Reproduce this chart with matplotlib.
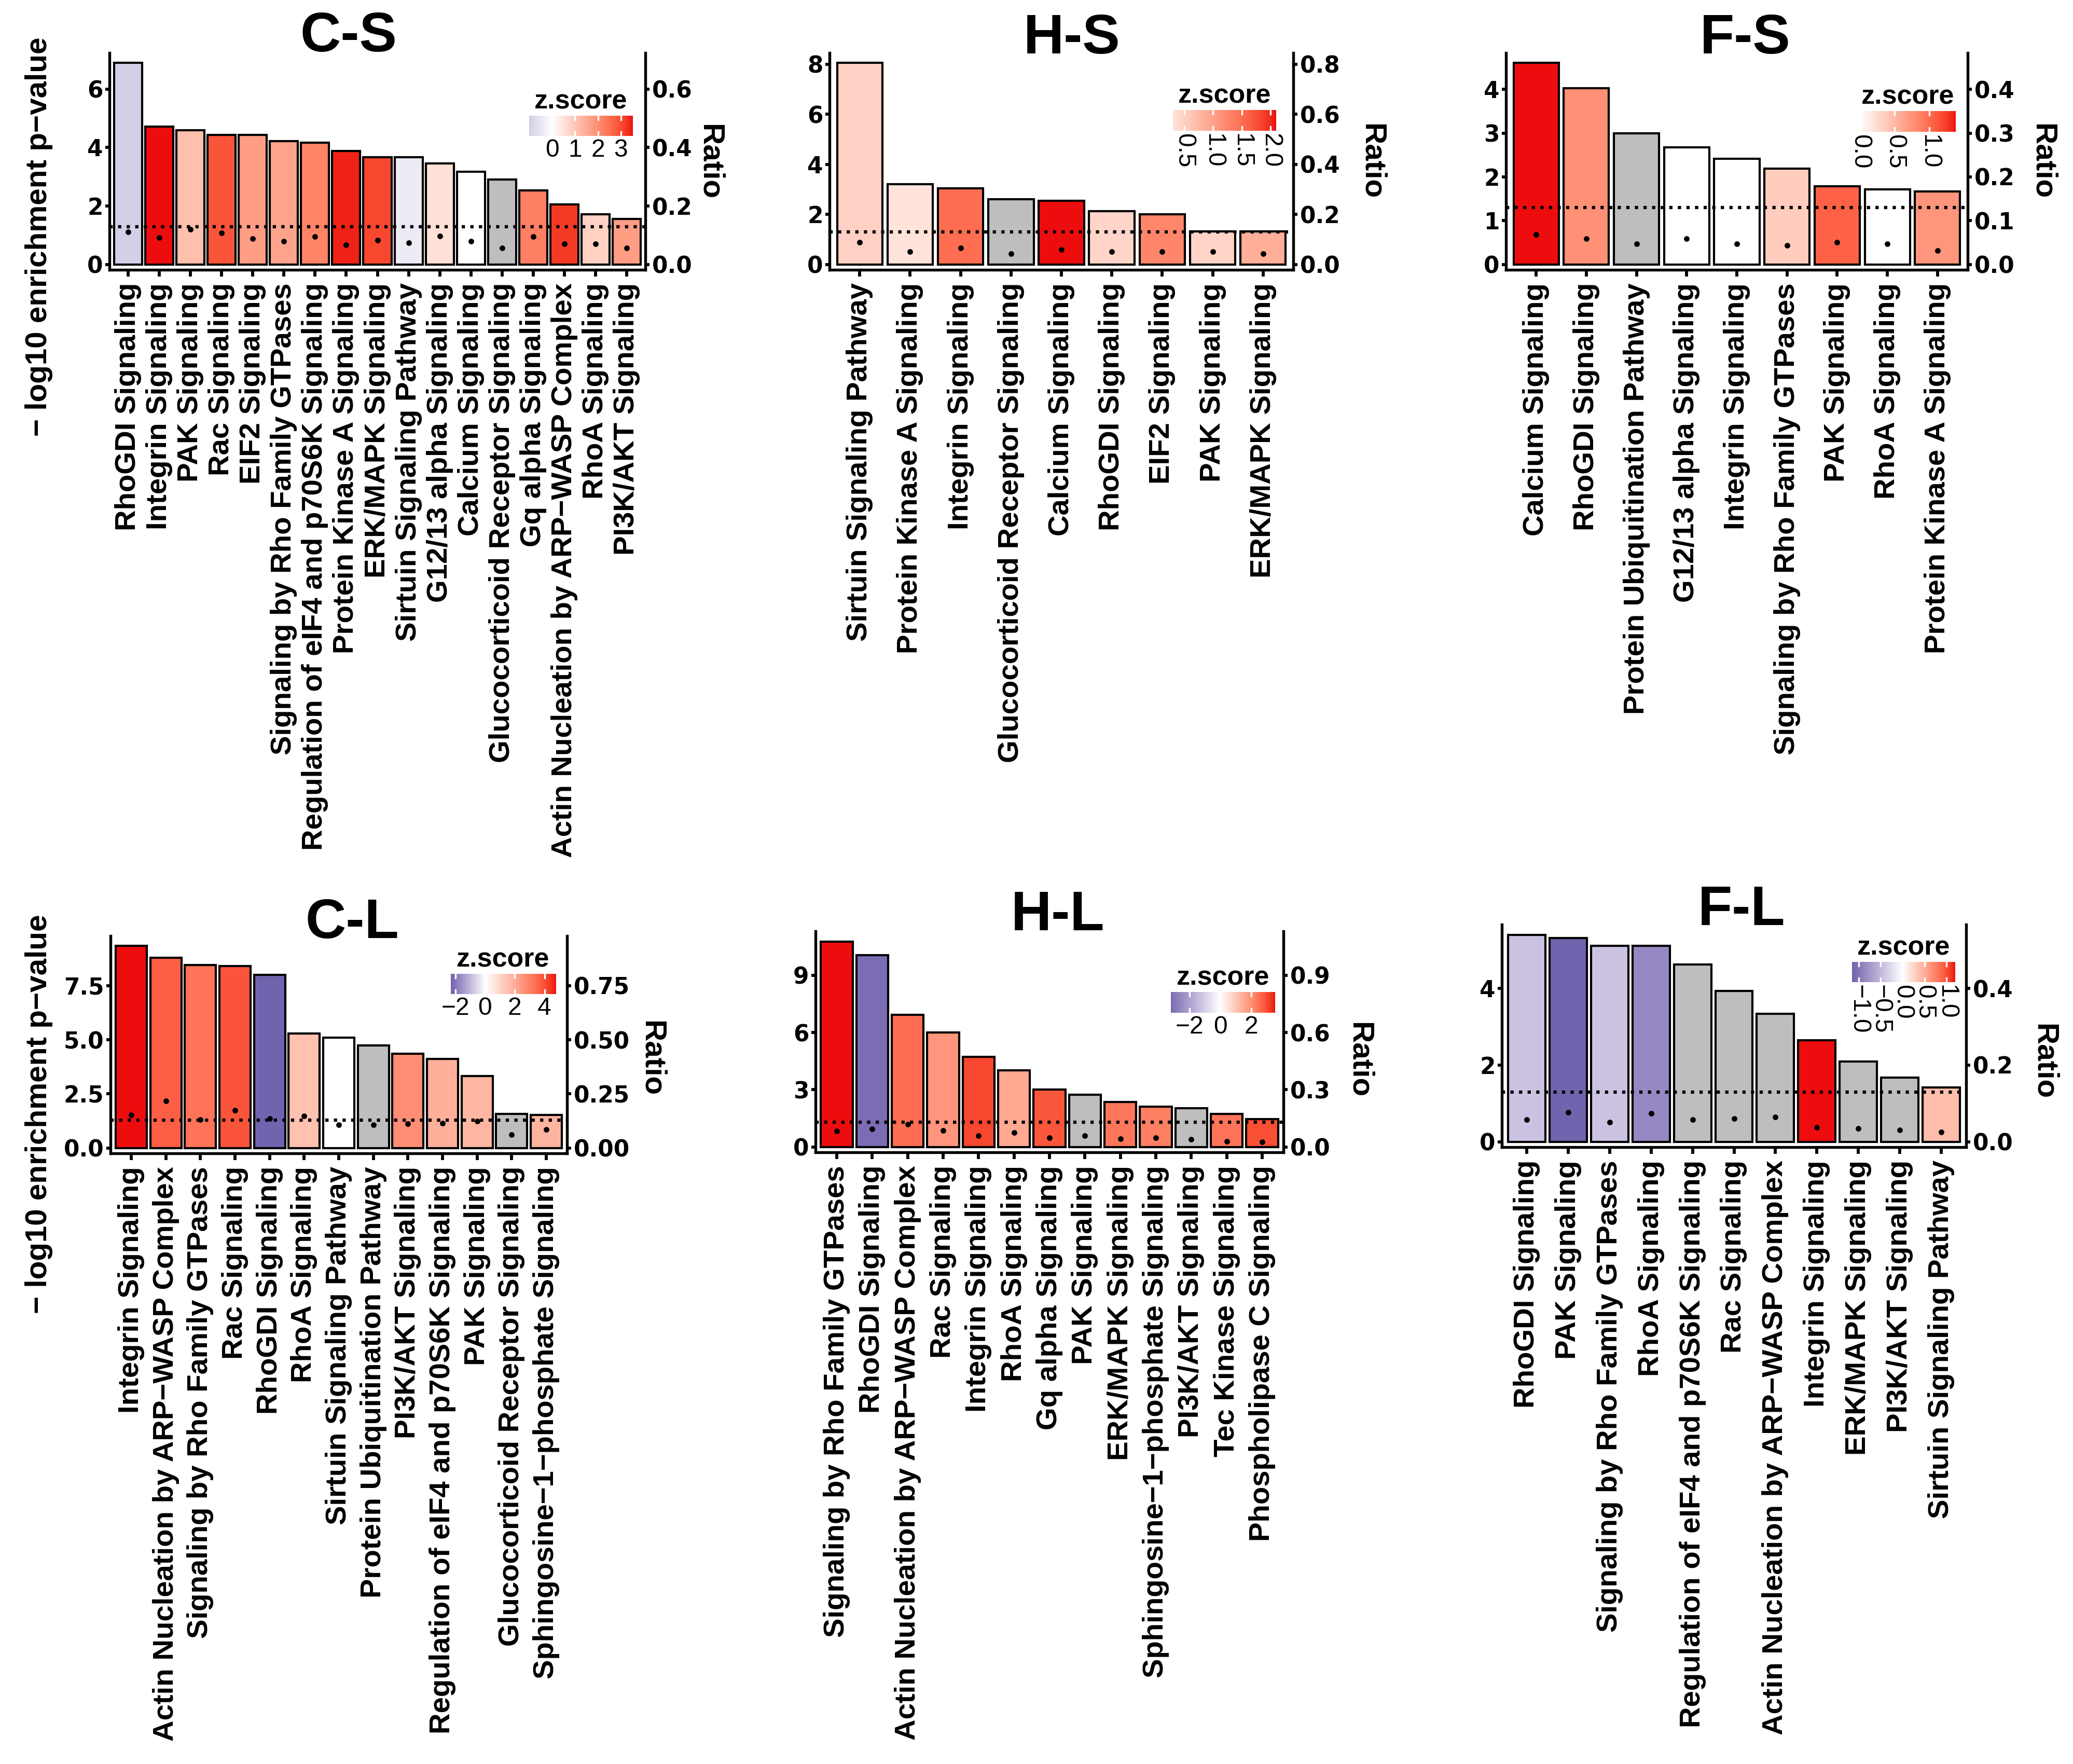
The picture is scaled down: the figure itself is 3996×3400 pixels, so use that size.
import numpy as np
import matplotlib
matplotlib.use("Agg")
import matplotlib.pyplot as plt
from matplotlib.colors import to_rgb
from matplotlib.transforms import blended_transform_factory

W, H, DPI = 3996, 3400, 300
LOW, NA_COL = "#6c5daa", "#bebebe"
HIGH_LAB = np.array([50.0, 75.0, 60.0])   # printed red, as Lab
SANS = ["Liberation Sans", "DejaVu Sans"]
NARROW = ["Liberation Sans Narrow", "Liberation Sans", "DejaVu Sans"]
NUM = ["DejaVu Sans"]
nan = np.nan

# ---------------- data ----------------
cs_terms = ["RhoGDI Signaling", "Integrin Signaling", "PAK Signaling", "Rac Signaling",
            "EIF2 Signaling", "Signaling by Rho Family GTPases",
            "Regulation of eIF4 and p70S6K Signaling", "Protein Kinase A Signaling",
            "ERK/MAPK Signaling", "Sirtuin Signaling Pathway", "G12/13 alpha Signaling",
            "Calcium Signaling", "Glucocorticoid Receptor Signaling", "Gq alpha Signaling",
            "Actin Nucleation by ARP\u2212WASP Complex", "RhoA Signaling", "PI3K/AKT Signaling"]
cs_logp = [6.89, 4.71, 4.60, 4.43, 4.43, 4.21, 4.17, 3.89, 3.66, 3.66, 3.45, 3.17, 2.90, 2.54, 2.06, 1.71, 1.56]
cs_ratio = [0.111, 0.092, 0.121, 0.108, 0.089, 0.079, 0.095, 0.067, 0.083, 0.074, 0.097, 0.079,
            0.057, 0.095, 0.070, 0.070, 0.057]
cs_z = [-1.0, 3.5, 1.14, 2.86, 1.73, 1.62, 2.16, 3.4, 3.04, -0.4, 0.54, 0.0, nan, 2.23, 3.2, 0.81, 1.73]

hs_terms = ["Sirtuin Signaling Pathway", "Protein Kinase A Signaling", "Integrin Signaling",
            "Glucocorticoid Receptor Signaling", "Calcium Signaling", "RhoGDI Signaling",
            "EIF2 Signaling", "PAK Signaling", "ERK/MAPK Signaling"]
hs_logp = [8.05, 3.20, 3.05, 2.60, 2.54, 2.14, 2.01, 1.33, 1.33]
hs_ratio = [0.088, 0.052, 0.065, 0.044, 0.059, 0.052, 0.052, 0.052, 0.044]
hs_z = [0.50, 0.30, 1.50, nan, 2.1, 0.45, 1.27, 0.46, 0.86]

fs_terms = ["Calcium Signaling", "RhoGDI Signaling", "Protein Ubiquitination Pathway",
            "G12/13 alpha Signaling", "Integrin Signaling", "Signaling by Rho Family GTPases",
            "PAK Signaling", "RhoA Signaling", "Protein Kinase A Signaling"]
fs_logp = [4.60, 4.02, 3.00, 2.68, 2.41, 2.19, 1.79, 1.71, 1.67]
fs_ratio = [0.068, 0.059, 0.047, 0.059, 0.047, 0.043, 0.051, 0.047, 0.032]
fs_z = [1.38, 0.77, nan, 0.0, 0.0, 0.36, 1.06, 0.0, 0.74]

cl_terms = ["Integrin Signaling", "Actin Nucleation by ARP\u2212WASP Complex",
            "Signaling by Rho Family GTPases", "Rac Signaling", "RhoGDI Signaling",
            "RhoA Signaling", "Sirtuin Signaling Pathway", "Protein Ubiquitination Pathway",
            "PI3K/AKT Signaling", "Regulation of eIF4 and p70S6K Signaling", "PAK Signaling",
            "Glucocorticoid Receptor Signaling", "Sphingosine\u22121\u2212phosphate Signaling"]
cl_logp = [9.33, 8.79, 8.46, 8.40, 8.00, 5.29, 5.09, 4.74, 4.35, 4.11, 3.33, 1.58, 1.54]
cl_ratio = [0.154, 0.218, 0.132, 0.175, 0.137, 0.148, 0.107, 0.107, 0.111, 0.115, 0.124, 0.062, 0.085]
cl_z = [4.75, 3.7, 3.27, 3.9, -2.3, 1.49, 0.0, nan, 2.7, 1.9, 1.74, nan, 1.8]

hl_terms = ["Signaling by Rho Family GTPases", "RhoGDI Signaling",
            "Actin Nucleation by ARP\u2212WASP Complex", "Rac Signaling", "Integrin Signaling",
            "RhoA Signaling", "Gq alpha Signaling", "PAK Signaling", "ERK/MAPK Signaling",
            "Sphingosine\u22121\u2212phosphate Signaling", "PI3K/AKT Signaling",
            "Tec Kinase Signaling", "Phospholipase C Signaling"]
hl_logp = [10.77, 10.07, 6.93, 6.01, 4.73, 4.01, 3.00, 2.73, 2.36, 2.10, 2.02, 1.72, 1.45]
hl_ratio = [0.084, 0.094, 0.118, 0.086, 0.059, 0.076, 0.049, 0.059, 0.042, 0.049, 0.039, 0.030, 0.027]
hl_z = [3.56, -3.2, 2.55, 1.9, 3.1, 1.55, 2.9, nan, 2.4, 2.28, nan, 2.45, 3.0]

fl_terms = ["RhoGDI Signaling", "PAK Signaling", "Signaling by Rho Family GTPases",
            "RhoA Signaling", "Regulation of eIF4 and p70S6K Signaling", "Rac Signaling",
            "Actin Nucleation by ARP\u2212WASP Complex", "Integrin Signaling",
            "ERK/MAPK Signaling", "PI3K/AKT Signaling", "Sirtuin Signaling Pathway"]
fl_logp = [5.40, 5.32, 5.12, 5.12, 4.63, 3.94, 3.34, 2.65, 2.09, 1.68, 1.41]
fl_ratio = [0.058, 0.077, 0.051, 0.074, 0.058, 0.061, 0.064, 0.037, 0.035, 0.031, 0.025]
fl_z = [-0.43, -1.15, -0.42, -0.86, nan, nan, nan, 1.2, nan, nan, 0.40]

THRESH = 1.3

# ---------------- layout (pixels) ----------------
panels = [
    dict(title="C-S", terms=cs_terms, logp=cs_logp, ratio=cs_ratio, z=cs_z,
         box=(211, 102, 1244, 520), tpos=(672, 71), rpos=(1368, 312), ylab=(75, 456),
         yt=[0, 2, 4, 6], yfmt="{:.0f}", rfmt="{:.1f}",
         cb=(1020, 223, 1219, 262), cbt=[0, 1, 2, 3], cbfmt="{:.0f}", cbrot=0),
    dict(title="H-S", terms=hs_terms, logp=hs_logp, ratio=hs_ratio, z=hs_z,
         box=(1599, 102, 2493, 520), tpos=(2066, 75), rpos=(2644, 311), ylab=None,
         yt=[0, 2, 4, 6, 8], yfmt="{:.0f}", rfmt="{:.1f}",
         cb=(2261, 212, 2460, 252), cbt=[0.5, 1.0, 1.5, 2.0], cbfmt="{:.1f}", cbrot=-90),
    dict(title="F-S", terms=fs_terms, logp=fs_logp, ratio=fs_ratio, z=fs_z,
         box=(2903, 102, 3793, 520), tpos=(3364, 75), rpos=(3937, 311), ylab=None,
         yt=[0, 1, 2, 3, 4], yfmt="{:.0f}", rfmt="{:.1f}",
         cb=(3586, 214, 3769, 254), cbt=[0.0, 0.5, 1.0], cbfmt="{:.1f}", cbrot=-90),
    dict(title="C-L", terms=cl_terms, logp=cl_logp, ratio=cl_ratio, z=cl_z,
         box=(213, 1804, 1093, 2223), tpos=(679, 1780), rpos=(1256, 2040), ylab=(75, 2147),
         yt=[0, 2.5, 5, 7.5], yfmt="{:.1f}", rfmt="{:.2f}", negspan=2.4,
         cb=(869, 1877, 1071, 1916), cbt=[-2, 0, 2, 4], cbfmt="{:.0f}", cbrot=0),
    dict(title="H-L", terms=hl_terms, logp=hl_logp, ratio=hl_ratio, z=hl_z,
         box=(1572, 1795, 2474, 2221), tpos=(2039, 1765), rpos=(2620, 2043), ylab=None,
         yt=[0, 3, 6, 9], yfmt="{:.0f}", rfmt="{:.1f}",
         cb=(2257, 1912, 2458, 1952), cbt=[-2, 0, 2], cbfmt="{:.0f}", cbrot=0),
    dict(title="F-L", terms=fl_terms, logp=fl_logp, ratio=fl_ratio, z=fl_z,
         box=(2895, 1782, 3790, 2211), tpos=(3357, 1755), rpos=(3940, 2046), ylab=None,
         yt=[0, 2, 4], yfmt="{:.0f}", rfmt="{:.1f}",
         cb=(3570, 1854, 3769, 1893), cbt=[-1.0, -0.5, 0.0, 0.5, 1.0], cbfmt="{:.1f}", cbrot=-90),
]

# colour interpolation in CIE Lab, like ggplot's gradient2
M_RGB2XYZ = np.array([[0.4124, 0.3576, 0.1805],
                      [0.2126, 0.7152, 0.0722],
                      [0.0193, 0.1192, 0.9505]])
WHITE_PT = np.array([0.95047, 1.0, 1.08883])


def to_lab(rgb):
    c = np.asarray(rgb, dtype=float)
    lin = np.where(c <= 0.04045, c / 12.92, ((c + 0.055) / 1.055) ** 2.4)
    xyz = M_RGB2XYZ @ lin / WHITE_PT
    f = np.where(xyz > 0.008856, np.cbrt(xyz), 7.787 * xyz + 16 / 116)
    return np.array([116 * f[1] - 16, 500 * (f[0] - f[1]), 200 * (f[1] - f[2])])


def from_lab(lab):
    L, a, b = lab
    fy = (L + 16) / 116
    f = np.array([fy + a / 500, fy, fy - b / 200])
    xyz = np.where(f ** 3 > 0.008856, f ** 3, (f - 16 / 116) / 7.787) * WHITE_PT
    lin = np.linalg.solve(M_RGB2XYZ, xyz)
    lin = np.clip(lin, 0, 1)
    c = np.where(lin <= 0.0031308, 12.92 * lin, 1.055 * lin ** (1 / 2.4) - 0.055)
    return tuple(np.clip(c, 0, 1))


LAB_W = to_lab((1, 1, 1))
LAB_LO = to_lab(to_rgb(LOW))


def zcolor(z, negspan, posspan):
    if np.isnan(z):
        return to_rgb(NA_COL)
    if z >= 0:
        f = min(z / posspan, 1.0)
        return from_lab(LAB_W + f * (HIGH_LAB - LAB_W))
    f = min(-z / negspan, 1.0)
    return from_lab(LAB_W + f * (LAB_LO - LAB_W))


def fig_rect(x0, y0, x1, y1):
    return [x0 / W, 1 - y1 / H, (x1 - x0) / W, (y1 - y0) / H]


def minus(s):
    return s.replace("-", "\u2212")


fig = plt.figure(figsize=(W / DPI, H / DPI), dpi=DPI)

for p in panels:
    n = len(p["terms"])
    x = np.arange(1, n + 1)
    logp = np.array(p["logp"])
    z = np.array(p["z"], dtype=float)
    zlo, zhi = np.nanmin(z), np.nanmax(z)
    span = max(abs(zlo), abs(zhi))
    negspan = p.get("negspan", span)
    posspan = p.get("posspan", span)
    cols = [zcolor(v, negspan, posspan) for v in z]

    ax = fig.add_axes(fig_rect(*p["box"]))
    ytop = 1.05 * logp.max()
    ylo = -0.025 * ytop
    ax.bar(x, logp, width=0.9, color=cols, edgecolor="black", linewidth=1.0, zorder=2)
    ax.axhline(THRESH, color="black", linestyle=":", linewidth=1.5, zorder=3)
    ax.set_xlim(0.4, n + 0.6)
    ax.set_ylim(ylo, ytop)
    ax.set_xticks(x)
    ax.set_xticklabels(p["terms"], rotation=90, ha="center", va="top",
                       fontsize=13.5, fontweight="bold", family=SANS)
    ax.set_yticks(p["yt"])
    ax.set_yticklabels([p["yfmt"].format(v) for v in p["yt"]],
                       fontsize=10.5, fontweight="bold", family=NUM)
    ax.tick_params(axis="x", length=3, width=1.4, pad=3)
    ax.tick_params(axis="y", length=2, width=1.4, pad=1)
    for s in ("top", "right"):
        ax.spines[s].set_visible(False)
    for s in ("left", "bottom"):
        ax.spines[s].set_linewidth(1.3)

    ax2 = ax.twinx()
    ax2.plot(x, p["ratio"], "o", color="black", markersize=1.6, zorder=4)
    ax2.set_ylim(ylo / 10, ytop / 10)
    rt = [v / 10 for v in p["yt"]]
    ax2.set_yticks(rt)
    ax2.set_yticklabels([p["rfmt"].format(v) for v in rt],
                        fontsize=10.5, fontweight="bold", family=NUM)
    ax2.tick_params(axis="y", length=2, width=1.4, pad=1)
    for s in ("top", "left", "bottom"):
        ax2.spines[s].set_visible(False)
    ax2.spines["right"].set_linewidth(1.3)

    # titles and axis labels
    tx, ty = p["tpos"]
    fig.text(tx / W, 1 - ty / H, p["title"], ha="center", va="center",
             fontsize=26, fontweight="bold", family=SANS)
    rx, ry = p["rpos"]
    fig.text(rx / W, 1 - ry / H, "Ratio", rotation=-90, ha="center", va="center",
             fontsize=14, fontweight="bold", family=SANS)
    if p["ylab"] is not None:
        lx, ly = p["ylab"]
        fig.text(lx / W, 1 - ly / H, "\u2212 log10 enrichment p\u2212value", rotation=90,
                 ha="center", va="center", fontsize=14, fontweight="bold", family=SANS)

    # z.score colour bar
    cx0, cy0, cx1, cy1 = p["cb"]
    cax = fig.add_axes(fig_rect(cx0, cy0, cx1, cy1))
    grid = np.linspace(zlo, zhi, 300)
    img = np.array([[zcolor(v, negspan, posspan) for v in grid]])
    cax.imshow(img, extent=[zlo, zhi, 0, 1], aspect="auto")
    cax.set_xlim(zlo, zhi)
    cax.set_ylim(0, 1)
    cax.axis("off")
    tr = blended_transform_factory(cax.transData, cax.transAxes)
    for t in p["cbt"]:
        cax.plot([t, t], [0, 0.2], color="white", lw=0.8)
        cax.plot([t, t], [0.8, 1], color="white", lw=0.8)
        lab = minus(p["cbfmt"].format(t))
        cax.text(t, -0.12, lab, transform=tr, ha="center", va="top",
                 rotation=p["cbrot"], fontsize=11.5, family=NARROW)
    cax.text(0.5, 1.06, "z.score", transform=cax.transAxes, ha="center", va="bottom",
             fontsize=12.5, fontweight="bold", family=NARROW)

fig.savefig("out.png", dpi=DPI)
